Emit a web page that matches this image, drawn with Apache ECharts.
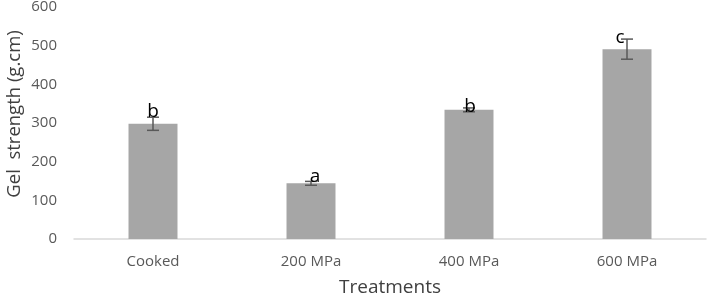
<!DOCTYPE html>
<html>
<head>
<meta charset="utf-8">
<script src="https://cdn.jsdelivr.net/npm/echarts@6/dist/echarts.min.js"></script>
<style>
  html, body { margin: 0; padding: 0; background: #fff; }
  #main { width: 708px; height: 294px; }
</style>
</head>
<body>
<div id="main"></div>
<script>
var treatments = ['Cooked', '200 MPa', '400 MPa', '600 MPa'];
var gelStrength = [298, 144, 334, 491];
var stdErr = [17, 5, 5, 26];
var groupLetters = ['b', 'a', 'b', 'c'];
var yTicks = [0, 100, 200, 300, 400, 500, 600];

var chart = echarts.init(document.getElementById('main'));
var font = '"Open Sans", "DejaVu Sans", sans-serif';

// letter offsets relative to top of error bar (px)
var letterShift = [[0, -6], [4, -5], [1, -1], [-7, -1]];

var option = {
    animation: false,
    grid: { left: 74, right: 2, top: 7, bottom: 55, outerBoundsMode: 'none' },
    graphic: [{
        type: 'text',
        x: 15,
        y: 114,
        rotation: Math.PI / 2,
        style: {
            text: 'Gel  strength (g.cm)',
            font: '18.5px ' + font,
            fill: '#404040',
            align: 'center',
            verticalAlign: 'middle'
        }
    }],
    xAxis: {
        type: 'category',
        data: treatments,
        name: 'Treatments',
        nameLocation: 'middle',
        nameGap: 39,
        nameTextStyle: { fontFamily: font, fontSize: 19, color: '#404040' },
        axisLine: { lineStyle: { color: '#d9d9d9', width: 1.5 } },
        axisTick: { show: false },
        axisLabel: { fontFamily: font, fontSize: 15, color: '#595959', margin: 15 }
    },
    yAxis: {
        type: 'value',
        min: yTicks[0],
        max: yTicks[yTicks.length - 1],
        interval: 100,
        axisLine: { show: false },
        axisTick: { show: false },
        splitLine: { show: false },
        axisLabel: { fontFamily: font, fontSize: 15, color: '#595959', margin: 17 }
    },
    series: [
        {
            type: 'bar',
            data: gelStrength,
            barWidth: '31%',
            itemStyle: { color: '#a6a6a6' }
        },
        {
            type: 'custom',
            data: gelStrength.map(function (v, i) { return [i, v - stdErr[i], v + stdErr[i]]; }),
            renderItem: function (params, api) {
                var lo = api.coord([api.value(0), api.value(1)]);
                var hi = api.coord([api.value(0), api.value(2)]);
                var w = 6;
                var st = { stroke: '#595959', lineWidth: 1.5 };
                return {
                    type: 'group',
                    children: [
                        { type: 'line', shape: { x1: hi[0], y1: hi[1], x2: lo[0], y2: lo[1] }, style: st },
                        { type: 'line', shape: { x1: hi[0] - w, y1: hi[1], x2: hi[0] + w, y2: hi[1] }, style: st },
                        { type: 'line', shape: { x1: lo[0] - w, y1: lo[1], x2: lo[0] + w, y2: lo[1] }, style: st }
                    ]
                };
            },
            z: 5
        },
        {
            type: 'custom',
            data: gelStrength.map(function (v, i) { return [i, v + stdErr[i]]; }),
            renderItem: function (params, api) {
                var p = api.coord([api.value(0), api.value(1)]);
                var s = letterShift[params.dataIndex];
                return {
                    type: 'text',
                    style: {
                        x: p[0] + s[0],
                        y: p[1] + s[1],
                        text: groupLetters[params.dataIndex],
                        fill: '#000',
                        font: '19px ' + font,
                        align: 'center',
                        verticalAlign: 'middle'
                    }
                };
            },
            z: 6
        }
    ]
};

chart.setOption(option);
</script>
</body>
</html>
